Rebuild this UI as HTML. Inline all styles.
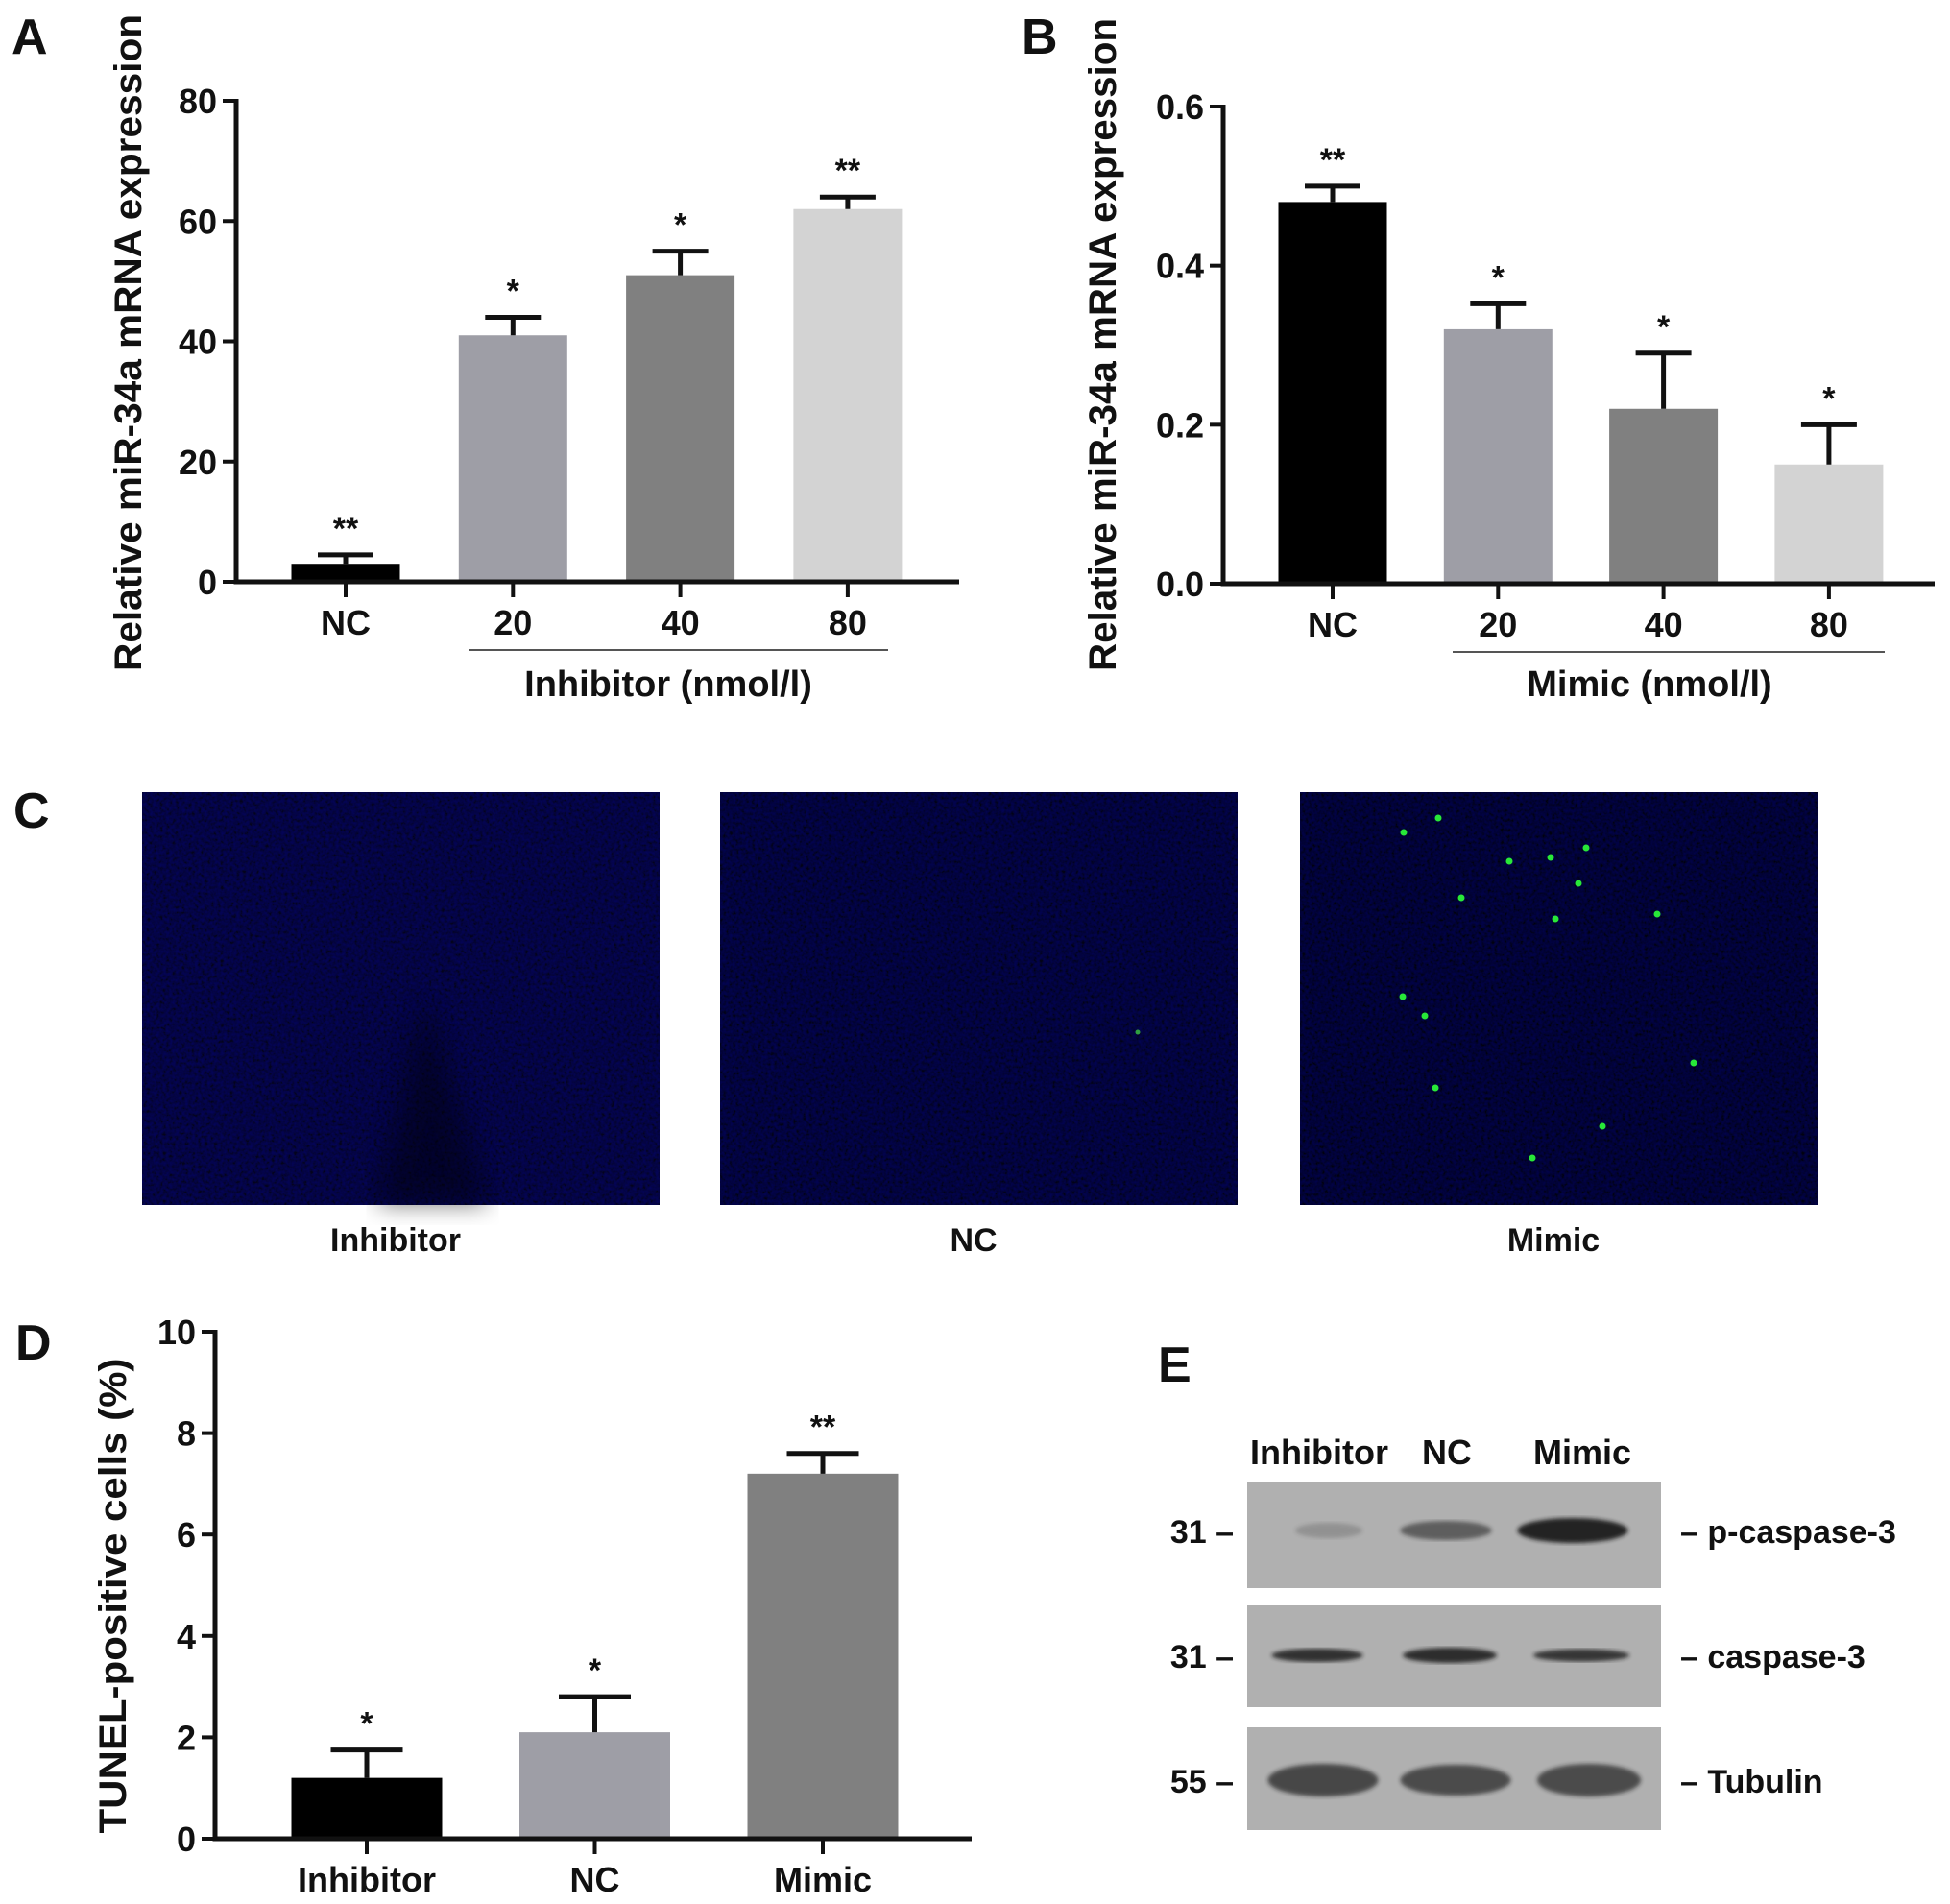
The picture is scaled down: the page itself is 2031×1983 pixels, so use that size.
<!DOCTYPE html>
<html><head><meta charset="utf-8"><style>
html,body{margin:0;padding:0;background:#fff}
svg{display:block}
text{font-family:"Liberation Sans",Arial,sans-serif;font-weight:bold;fill:#111}
</style></head><body>
<svg id="fig" width="2031" height="1983" viewBox="0 0 2031 1983" xmlns="http://www.w3.org/2000/svg">
<defs>
<filter id="noise" x="0" y="0" width="100%" height="100%">
<feTurbulence type="fractalNoise" baseFrequency="0.3" numOctaves="2" seed="3" result="t"/>
<feColorMatrix type="matrix" values="0 0 0 0 0.0  0 0 0 0 0.0  0 0 0 0.5 -0.12  0 0 0 0 1" in="t"/>
</filter>
<filter id="blur4"><feGaussianBlur stdDeviation="12"/></filter>
<filter id="blur2"><feGaussianBlur stdDeviation="2"/></filter>
</defs>
<g id="panelA"></g>
<g id="panelB"></g>
<g id="panelC"></g>
<g id="panelD"></g>
<g id="panelE"></g>
</svg>
<script>
// Panel A data
const catsA = ["NC","20","40","80"];
const valsA = [3,41,51,62];
const errA = [4.5,44,55,64];
const sigA = ["**","*","*","**"];
const ticksA = [0,20,40,60,80];
// Panel B data
const catsB = ["NC","20","40","80"];
const valsB = [0.48,0.32,0.22,0.15];
const errB = [0.50,0.352,0.29,0.20];
const sigB = ["**","*","*","*"];
const ticksB = [0.0,0.2,0.4,0.6];
const tickLabB = ["0.0","0.2","0.4","0.6"];
// Panel D data
const catsD = ["Inhibitor","NC","Mimic"];
const valsD = [1.2,2.1,7.2];
const errD = [1.75,2.8,7.6];
const sigD = ["*","*","**"];
const ticksD = [0,2,4,6,8,10];
// Colors
const colsABC = ["#000000","#9e9ea6","#808080","#d3d3d3"];

const NS="http://www.w3.org/2000/svg";
function mk(parent,tag,attrs,txt){const e=document.createElementNS(NS,tag);for(const k in attrs)e.setAttribute(k,attrs[k]);if(txt!==undefined)e.textContent=txt;parent.appendChild(e);return e;}

function barChart(g,o){
  const y=v=>o.y0-(v-o.vmin)/(o.vmax-o.vmin)*(o.y0-o.y1);
  o.vals.forEach((v,i)=>{
    const cx=o.x0+o.first+i*o.step;
    const r=mk(g,"rect",{x:cx-o.bw/2,y:y(v),width:o.bw,height:o.y0-y(v),fill:o.cols[i]});
    
    
    const e=mk(g,"path",{d:`M${cx} ${y(v)}V${y(o.err[i])}M${cx-o.cap/2} ${y(o.err[i])}H${cx+o.cap/2}`,stroke:"#111","stroke-width":5,fill:"none"});
    
    
    const s=mk(g,"text",{x:cx,y:y(o.err[i])-16,"text-anchor":"middle","font-size":34},o.sig[i]);
    
    
    const t=mk(g,"path",{d:`M${cx} ${o.y0}V${o.y0+16}`,stroke:"#111","stroke-width":4});
    
    
    const l=mk(g,"text",{x:cx,y:o.y0+55,"text-anchor":"middle","font-size":o.catFs||36},o.cats[i]);
    
    
  });
  o.ticks.forEach((v,i)=>{
    const t=mk(g,"path",{d:`M${o.x0-14} ${y(v)}H${o.x0}`,stroke:"#111","stroke-width":4});
    
    
    const l=mk(g,"text",{x:o.x0-20,y:y(v)+13,"text-anchor":"end","font-size":36},o.tickLabs?o.tickLabs[i]:String(v));
    
    
  });
  const ax=mk(g,"path",{d:`M${o.x0} ${o.y1-2}V${o.y0}H${o.xEnd}`,stroke:"#111","stroke-width":5,fill:"none"});
  
  
}

const A=document.getElementById('panelA');
barChart(A,{x0:246,y0:606,y1:105,vmin:0,vmax:80,first:114,step:174.3,bw:113,cap:58,xEnd:999,vals:valsA,err:errA,sig:sigA,cats:catsA,cols:colsABC,ticks:ticksA});
const B=document.getElementById('panelB');
barChart(B,{x0:1274,y0:608,y1:111,vmin:0,vmax:0.6,first:114,step:172.3,bw:113,cap:58,xEnd:2015,vals:valsB,err:errB,sig:sigB,cats:catsB,cols:colsABC,ticks:ticksB,tickLabs:tickLabB});
const D=document.getElementById('panelD');
barChart(D,{x0:224,y0:1915,y1:1387,vmin:0,vmax:10,first:158,step:237.5,bw:157,cap:75,xEnd:1012,vals:valsD,err:errD,sig:sigD,cats:catsD,cols:colsABC,ticks:ticksD,catFs:36});
</script>

<script>
(function(){
const NS="http://www.w3.org/2000/svg";
function mk(parent,tag,attrs,txt){const e=document.createElementNS(NS,tag);for(const k in attrs)e.setAttribute(k,attrs[k]);if(txt!==undefined)e.textContent=txt;parent.appendChild(e);return e;}
const A=document.getElementById('panelA'),B=document.getElementById('panelB'),D=document.getElementById('panelD'),C=document.getElementById('panelC'),E=document.getElementById('panelE');
let e;
e=mk(A,"text",{x:12,y:56,"font-size":52},"A");


e=mk(A,"text",{transform:"translate(147 357) rotate(-90)","text-anchor":"middle","font-size":40,textLength:684,lengthAdjust:"spacingAndGlyphs"},"Relative miR-34a mRNA expression");


e=mk(A,"path",{d:"M489 677H925",stroke:"#555","stroke-width":2});


e=mk(A,"text",{x:696,y:725,"text-anchor":"middle","font-size":38},"Inhibitor  (nmol/l)");



e=mk(B,"text",{x:1064,y:56,"font-size":52},"B");


e=mk(B,"text",{transform:"translate(1162 359) rotate(-90)","text-anchor":"middle","font-size":40,textLength:680,lengthAdjust:"spacingAndGlyphs"},"Relative miR-34a mRNA expression");


e=mk(B,"path",{d:"M1513 679H1963",stroke:"#555","stroke-width":2});


e=mk(B,"text",{x:1718,y:725,"text-anchor":"middle","font-size":38},"Mimic  (nmol/l)");



e=mk(D,"text",{x:16,y:1416,"font-size":52},"D");


e=mk(D,"text",{transform:"translate(131 1662) rotate(-90)","text-anchor":"middle","font-size":40,textLength:495,lengthAdjust:"spacingAndGlyphs"},"TUNEL-positive cells (%)");



// Panel C
e=mk(C,"text",{x:14,y:862,"font-size":52},"C");


const imgs=[{x:148,name:"Inhibitor",base:"#070830"},{x:750,name:"NC",base:"#050626"},{x:1354,name:"Mimic",base:"#03041a"}];
const dots=[[144,27],[108,42],[298,58],[261,68],[218,72],[290,95],[168,110],[266,132],[107,213],[130,233],[141,308],[315,348],[242,381],[410,282],[372,127]];
imgs.forEach((im,i)=>{
  const g=mk(C,"g",{});
  
  
  mk(g,"rect",{x:im.x,y:825,width:539,height:430,fill:im.base});
  mk(g,"rect",{x:im.x,y:825,width:539,height:430,fill:"#000",filter:"url(#noise)",opacity:0.4});
  if(i===0){mk(g,"path",{d:`M${im.x+245} ${825+430}L${im.x+295} ${825+220}L${im.x+360} ${825+430}Z`,fill:"#010208",opacity:0.5,filter:"url(#blur4)"});}
  if(i===2){dots.forEach(d=>{const c=mk(g,"circle",{cx:im.x+d[0],cy:825+d[1],r:3.5,fill:"#28e838"});});}
  if(i===1){mk(g,"circle",{cx:im.x+435,cy:825+250,r:2.5,fill:"#30a040"});}
  const l=mk(C,"text",{x:im.x+264,y:1303,"text-anchor":"middle","font-size":34},im.name);
  
  
});

// Panel E
e=mk(E,"text",{x:1206,y:1439,"font-size":52},"E");


[["Inhibitor",1374],["NC",1507],["Mimic",1648]].forEach(c=>{const t=mk(E,"text",{x:c[1],y:1525,"text-anchor":"middle","font-size":36},c[0]);});
const blots=[
 {y:1544,h:110,mw:"31",lab:"p-caspase-3",bands:[[1384,0.2,70,16],[1506,0.55,95,20],[1638,0.95,115,26]]},
 {y:1672,h:106,mw:"31",lab:"caspase-3",bands:[[1372,0.85,95,14],[1510,0.88,98,16],[1647,0.82,100,13]]},
 {y:1799,h:107,mw:"55",lab:"Tubulin",bands:[[1378,0.7,115,34],[1516,0.68,115,32],[1655,0.68,108,34]]}
];
blots.forEach((b,i)=>{
  const g=mk(E,"g",{});
  
  
  mk(g,"rect",{x:1299,y:b.y,width:431,height:b.h,fill:"#b0b0b0"});
  const cy=[1594,1724,1854][i];
  b.bands.forEach(bd=>{const el=mk(g,"ellipse",{cx:bd[0],cy:cy,rx:bd[2]/2,ry:bd[3]/2,fill:"#1a1a1a",opacity:bd[1],filter:"url(#blur2)"});});
  const m=mk(E,"text",{x:1285,y:cy+13,"text-anchor":"end","font-size":34},b.mw+" –");
  
  
  const r=mk(E,"text",{x:1750,y:cy+13,"font-size":34},"– "+(i===1?" ":"")+b.lab);
  
  
});
})();
</script>
</body></html>
